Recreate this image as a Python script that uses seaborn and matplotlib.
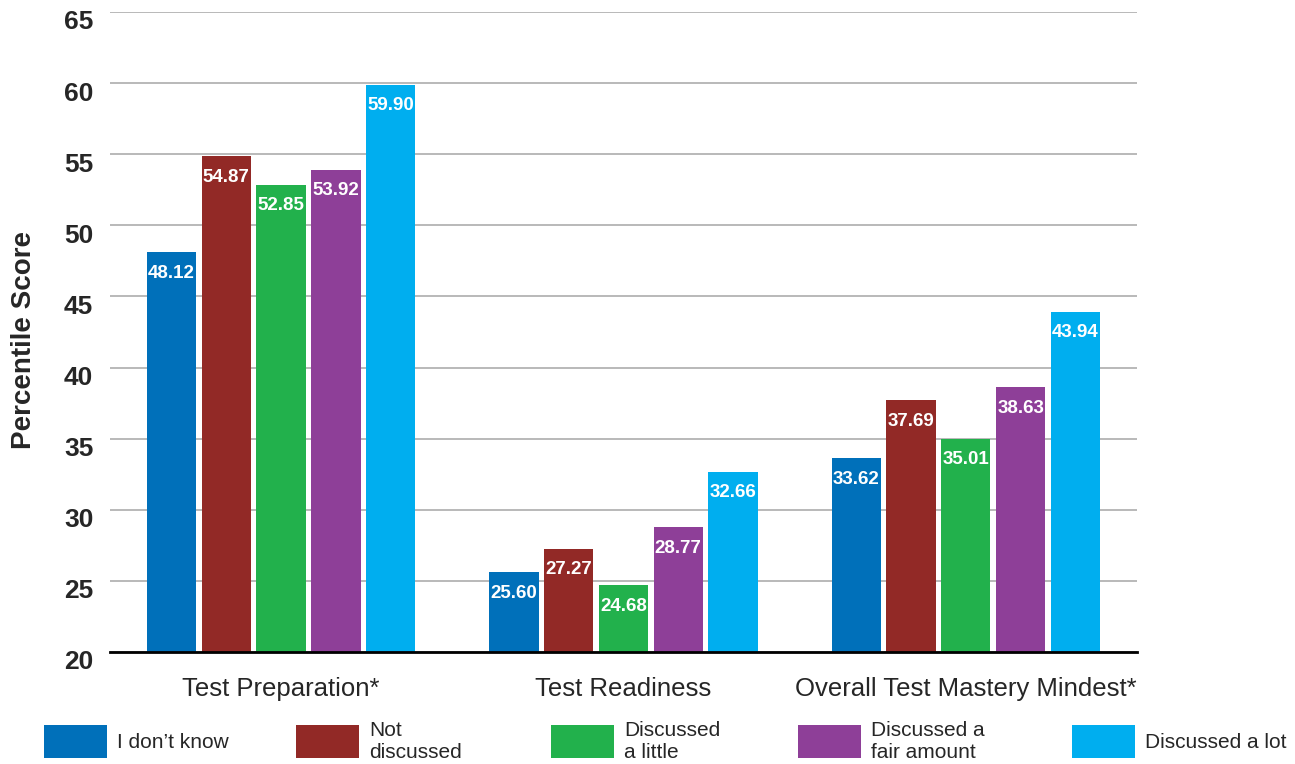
import matplotlib
matplotlib.use("Agg")
import matplotlib.pyplot as plt
import matplotlib.transforms as mtransforms
import seaborn as sns
import pandas as pd

measures = ["Test Preparation*", "Test Readiness", "Overall Test Mastery Mindest*"]
responses = ["I don\u2019t know", "Not\ndiscussed", "Discussed\na little",
             "Discussed a\nfair amount", "Discussed a lot"]
scores = {
    "Test Preparation*": [48.12, 54.87, 52.85, 53.92, 59.90],
    "Test Readiness": [25.60, 27.27, 24.68, 28.77, 32.66],
    "Overall Test Mastery Mindest*": [33.62, 37.69, 35.01, 38.63, 43.94],
}
colors = ["#0070BA", "#922926", "#22B14C", "#8E3F98", "#00AEEF"]
yticks = [20, 25, 30, 35, 40, 45, 50, 55, 60, 65]

rows = [(m, r, v) for m in measures for r, v in zip(responses, scores[m])]
df = pd.DataFrame(rows, columns=["measure", "response", "score"])

sns.set_theme(style="white")
plt.rcParams["font.family"] = ["Liberation Sans", "DejaVu Sans"]

W, H = 1295, 764
fig = plt.figure(figsize=(W / 100, H / 100), dpi=100)
ax = fig.add_axes([0.0849, 0.1466, 0.7931, 0.8377])

sns.barplot(data=df, x="measure", y="score", hue="response",
            hue_order=responses, order=measures, palette=colors,
            width=0.8, gap=0.1, saturation=1, legend=True, ax=ax,
            linewidth=0, errorbar=None)

ax.set_ylim(20, 65)
ax.set_xlim(-0.5, 2.5)
ax.set_yticks(yticks)
ax.set_yticklabels([str(t) for t in yticks], fontsize=19, fontweight="bold")
ax.tick_params(axis="x", labelsize=18.5, pad=18, length=0)
ax.tick_params(axis="y", length=0, pad=12)
# y tick labels sit slightly below their gridlines
shift = mtransforms.ScaledTranslation(0, -0.08, fig.dpi_scale_trans)
for lbl in ax.get_yticklabels():
    lbl.set_transform(lbl.get_transform() + shift)
ax.yaxis.grid(True, color="#A6A6A6", linewidth=1.1)
ax.set_axisbelow(True)
for s in ["top", "right", "left"]:
    ax.spines[s].set_visible(False)
ax.spines["bottom"].set_color("black")
ax.spines["bottom"].set_linewidth(2)
ax.set_xlabel("")
ax.set_ylabel("Percentile Score", fontsize=20, fontweight="bold")
ax.yaxis.set_label_coords(-0.071, 0.4875)

# value labels inside the top of each bar
for cont in ax.containers:
    for bar in cont:
        h = bar.get_height()
        ax.annotate(f"{h:.2f}", (bar.get_x() + bar.get_width() / 2, h),
                    xytext=(0, -9), textcoords="offset points",
                    ha="center", va="top", color="white",
                    fontsize=13.5, fontweight="bold")

# legend: one entry per slot along the bottom of the figure
handles, labels = ax.get_legend_handles_labels()
ax.get_legend().remove()
slot_x = [44, 296, 551, 798, 1072]
for hnd, lab, x in zip(handles, labels, slot_x):
    fig.legend([hnd], [lab], loc="center left",
               bbox_to_anchor=(x / W, 1 - 741 / H), frameon=False,
               fontsize=15, handlelength=3.0, handleheight=2.06,
               handletextpad=0.5, borderpad=0, borderaxespad=0,
               labelspacing=0.2)

fig.savefig("out.png", dpi=100)
